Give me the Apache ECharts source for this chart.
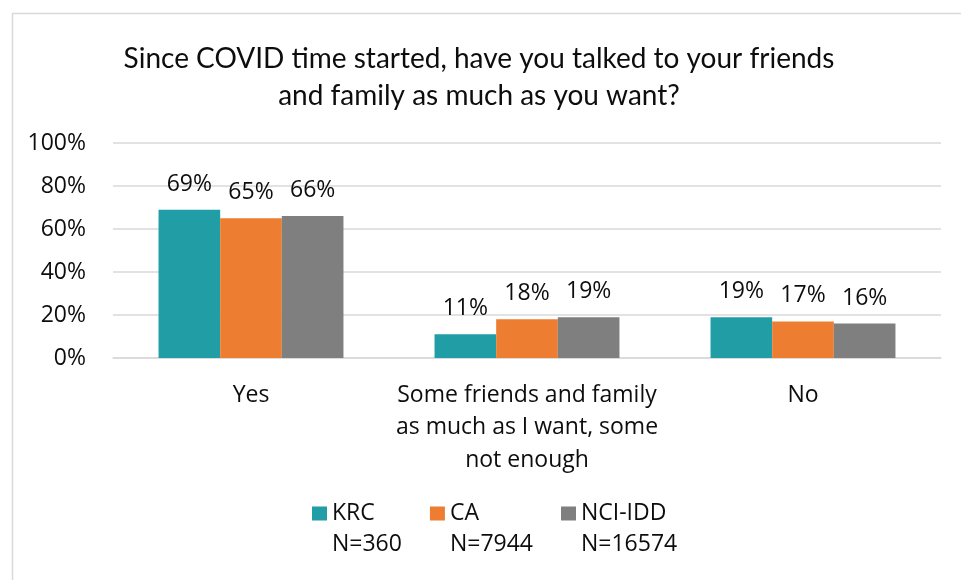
<!DOCTYPE html>
<html>
<head>
<meta charset="utf-8">
<script src="https://cdn.jsdelivr.net/npm/echarts@6/dist/echarts.min.js"></script>
<style>html,body{margin:0;padding:0;background:#fff;}#chart{width:961px;height:580px;}</style>
</head>
<body>
<div id="chart"></div>
<script>
const titleText = 'Since COVID time started, have you talked to your friends\nand family as much as you want?';
const categories = ['Yes', 'Some friends and family\nas much as I want, some\nnot enough', 'No'];
const seriesNames = ['KRC', 'CA', 'NCI-IDD'];
const sampleSizes = ['N=360', 'N=7944', 'N=16574'];
const krcValues = [69, 11, 19];
const caValues = [65, 18, 17];
const nciValues = [66, 19, 16];
const yTicks = [0, 20, 40, 60, 80, 100];
const colors = ['#219DA6', '#ED7D31', '#7F7F7F'];

const FONT = '"Open Sans", sans-serif';
const TXT = '#0d0d0d';
const chart = echarts.init(document.getElementById('chart'), null, {renderer: 'canvas'});
const values = [krcValues, caValues, nciValues];
const nMap = {};
seriesNames.forEach((n, i) => nMap[n] = sampleSizes[i]);

chart.setOption({
  animation: false,
  backgroundColor: '#fff',
  graphic: [{
    type: 'rect', left: 10, top: 11, silent: true,
    shape: {width: 1000, height: 1000},
    style: {fill: 'none', stroke: '#d9d9d9', lineWidth: 1.5}
  }],
  title: {
    text: titleText, left: 474, top: 35, textAlign: 'center',
    textStyle: {fontFamily: 'Lato, sans-serif', fontSize: 28, fontWeight: 'normal', color: TXT, lineHeight: 37}
  },
  grid: {left: 113, right: 20, top: 143, bottom: 222, containLabel: false},
  legend: {
    data: seriesNames, left: 307, top: 462, itemWidth: 15, itemHeight: 14, itemGap: 28,
    icon: 'rect',
    formatter: n => '\n' + n + '\n' + nMap[n],
    textStyle: {fontFamily: FONT, fontSize: 23, color: TXT, lineHeight: 31}
  },
  xAxis: {
    type: 'category', data: categories,
    axisLine: {show: true, lineStyle: {color: '#d9d9d9', width: 1.5}},
    axisTick: {show: false},
    axisLabel: {fontFamily: FONT, fontSize: 23, color: TXT, lineHeight: 32.5, margin: 21, interval: 0}
  },
  yAxis: {
    type: 'value', min: yTicks[0], max: yTicks[yTicks.length - 1], interval: 20,
    axisLine: {show: false}, axisTick: {show: false},
    axisLabel: {fontFamily: FONT, fontSize: 23, color: TXT, margin: 27, formatter: v => v + '%'},
    splitLine: {lineStyle: {color: '#d9d9d9', width: 1.5}}
  },
  series: seriesNames.map((name, i) => ({
    name, type: 'bar', data: values[i],
    barGap: '0%', barCategoryGap: '33%',
    itemStyle: {color: colors[i]},
    label: {show: true, position: 'top', distance: 14, formatter: p => p.value + '%',
      fontFamily: FONT, fontSize: 23, color: TXT}
  }))
});
</script>
</body>
</html>
